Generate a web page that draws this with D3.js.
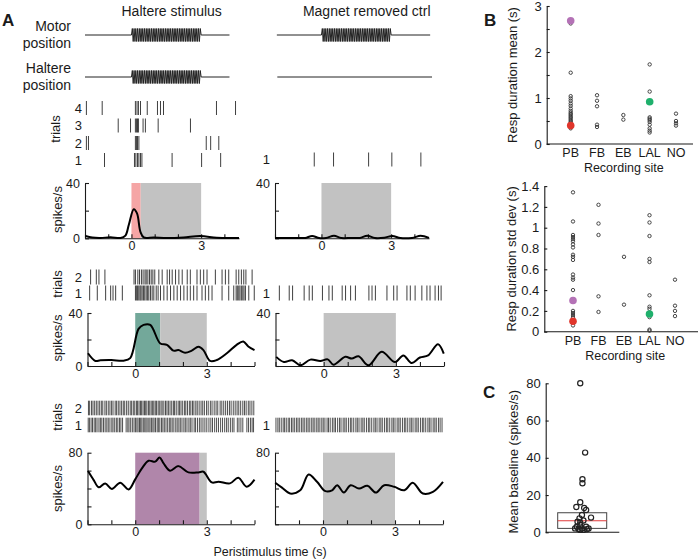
<!DOCTYPE html>
<html><head><meta charset="utf-8">
<script src="https://cdn.jsdelivr.net/npm/d3@7"></script>
<style>
body{margin:0;background:#fff;}
svg text{font-family:"Liberation Sans",Arial,Helvetica,sans-serif;fill:#1a1a1a;}
</style></head><body>
<svg id="fig" width="700" height="560"></svg>
<script>
// ---------------- DATA ----------------
const columnTitles = ["Haltere stimulus", "Magnet removed ctrl"];
const stimWindow = [0, 3];
const stimCycles = 40;
const traceSpanLeft = [-2, 4.22];
const traceSpanRight = [-1.92, 4.68];
const haltereSpanRight = [-1.9, 4.76];

// Row 1 rasters (spike times, s)
const raster1LeftLabels = ["4", "3", "2", "1"];
const raster1Left = [
  [-1.94, -1.26, 0.17, 0.24, 0.3, 0.39, 0.68, 1.12, 1.25, 1.38, 3.66, 4.48],
  [-0.57, -0.04, 0.17, 0.22, 0.26, 0.3, 0.5, 0.6, 1.15, 2.54],
  [-1.94, -1.85, 0.17, 0.22, 0.26, 0.32, 3.22, 3.41, 3.76],
  [-1.16, 0.13, 0.19, 0.26, 0.32, 0.39, 0.45, 1.75, 3.02, 3.84]
];
const raster1RightLabels = ["1"];
const raster1Right = [[-0.31, 0.52, 2.03, 3.03, 4.28]];

// Row 2 rasters
const raster2LeftLabels = ["2", "1"];
const raster2Left = [
  [-1.87, -1.63, -1.52, -1.27, -0.05, 0.01, 0.11, 0.18, 0.26, 0.33, 0.41, 0.46, 0.53, 0.6, 0.67, 0.74, 0.82, 0.99, 1.13, 1.34, 1.44, 1.55, 1.69, 1.83, 1.97, 2.18, 2.31, 2.59, 2.73, 2.87, 3.01, 3.36, 3.64, 3.78, 3.92, 4.23, 4.34, 4.45, 4.55, 4.64, 4.9],
  [-1.91, -1.59, -1.24, -1.03, -0.93, -0.82, -0.54, 0.01, 0.06, 0.1, 0.15, 0.2, 0.24, 0.29, 0.35, 0.4, 0.46, 0.52, 0.57, 0.64, 0.71, 0.78, 0.88, 0.96, 1.06, 1.2, 1.34, 1.48, 1.62, 1.76, 1.9, 2.04, 2.18, 2.31, 2.45, 2.59, 2.8, 2.94, 3.08, 3.22, 3.64, 3.92, 4.13, 4.23, 4.28, 4.34, 4.39, 4.45, 4.51, 4.56, 4.62, 4.76, 4.99]
];
const raster2RightLabels = ["1"];
const raster2Right = [[-1.84, -1.43, -1.29, -0.81, -0.6, -0.47, -0.05, 0.22, 0.36, 0.77, 0.91, 1.12, 1.32, 1.88, 2.01, 2.15, 2.63, 2.91, 3.05, 3.46, 3.6, 3.8, 4.08, 4.29, 4.42, 4.63, 4.77, 4.88]];

// Row 3 rasters (dense)
const raster3LeftLabels = ["2", "1"];
const raster3Left = [
  [-1.96, -1.91, -1.83, -1.77, -1.7, -1.63, -1.56, -1.49, -1.42, -1.36, -1.27, -1.21, -1.13, -1.06, -0.99, -0.93, -0.84, -0.78, -0.71, -0.64, -0.57, -0.5, -0.44, -0.36, -0.29, -0.21, -0.15, -0.08, -0.02, 0.05, 0.1, 0.16, 0.22, 0.27, 0.33, 0.39, 0.44, 0.49, 0.56, 0.61, 0.67, 0.73, 0.78, 0.84, 0.89, 0.96, 1.01, 1.08, 1.13, 1.2, 1.27, 1.33, 1.39, 1.46, 1.53, 1.6, 1.65, 1.72, 1.8, 1.86, 1.92, 1.99, 2.07, 2.12, 2.19, 2.27, 2.33, 2.4, 2.46, 2.54, 2.6, 2.68, 2.76, 2.83, 2.9, 2.99, 3.06, 3.15, 3.22, 3.31, 3.39, 3.46, 3.56, 3.63, 3.71, 3.79, 3.87, 3.95, 4.02, 4.11, 4.19, 4.27, 4.34, 4.42, 4.51, 4.58, 4.65, 4.74, 4.81, 4.89, 4.97],
  [-1.97, -1.92, -1.85, -1.79, -1.72, -1.66, -1.6, -1.52, -1.46, -1.4, -1.33, -1.26, -1.19, -1.13, -1.06, -0.98, -0.93, -0.86, -0.79, -0.73, -0.66, -0.6, -0.53, -0.38, -0.31, -0.26, -0.19, -0.12, -0.05, 0.01, 0.07, 0.12, 0.18, 0.23, 0.28, 0.34, 0.4, 0.45, 0.5, 0.57, 0.62, 0.68, 0.74, 0.79, 0.85, 0.92, 0.97, 1.03, 1.1, 1.16, 1.22, 1.29, 1.36, 1.43, 1.49, 1.55, 1.62, 1.7, 1.76, 1.83, 1.89, 1.96, 2.04, 2.1, 2.17, 2.25, 2.31, 2.38, 2.47, 2.53, 2.61, 2.69, 2.76, 2.84, 2.92, 3.0, 3.09, 3.17, 3.24, 3.33, 3.41, 3.49, 3.58, 3.66, 3.75, 3.83, 3.9, 3.99, 4.07, 4.14, 4.28, 4.35, 4.43, 4.51, 4.68, 4.75, 4.83, 4.9, 4.96]
];
const raster3RightLabels = ["1"];
const raster3Right = [[-1.96, -1.88, -1.82, -1.74, -1.66, -1.6, -1.53, -1.45, -1.39, -1.31, -1.25, -1.18, -1.1, -1.04, -0.97, -0.89, -0.83, -0.76, -0.68, -0.62, -0.55, -0.47, -0.41, -0.34, -0.26, -0.2, -0.13, -0.05, 0.01, 0.08, 0.17, 0.23, 0.3, 0.39, 0.46, 0.52, 0.61, 0.69, 0.75, 0.84, 0.91, 0.97, 1.06, 1.14, 1.2, 1.28, 1.37, 1.43, 1.5, 1.59, 1.66, 1.72, 1.81, 1.89, 1.95, 2.03, 2.12, 2.18, 2.25, 2.34, 2.41, 2.47, 2.56, 2.64, 2.7, 2.78, 2.87, 2.93, 3.0, 3.09, 3.16, 3.22, 3.31, 3.39, 3.45, 3.53, 3.62, 3.68, 3.75, 3.84, 3.91, 3.97, 4.06, 4.14, 4.2, 4.28, 4.37, 4.43, 4.5, 4.59, 4.66, 4.72, 4.81, 4.88, 4.96]];

// PSTH curves [time s, spikes/s]
const psth1Left = [[-1.98,1.7],[-1.69,0.5],[-1.33,0.2],[-0.9,0.8],[-0.47,0.2],[-0.26,2.0],[-0.11,10],[0.1,21],[0.24,18],[0.39,4.5],[0.53,0.6],[0.96,0.6],[1.53,0.2],[2.24,0.6],[2.96,1.6],[3.67,0.4],[4.39,0.2],[4.63,0.2]];
const psth1Right = [[-2,0.3],[-1.5,0.2],[-1,0.3],[-0.7,0.2],[-0.4,1.7],[-0.1,0.2],[0.2,0.3],[0.54,1.8],[0.85,0.2],[1.3,0.3],[1.65,0.3],[1.97,1.8],[2.3,0.2],[2.7,0.4],[3.05,1.7],[3.4,0.2],[3.9,0.3],[4.27,1.8],[4.63,0.3]];
const psth2Left = [[-1.98,9.6],[-1.67,3.8],[-1.46,4.3],[-1.0,4.5],[-0.49,4],[-0.21,6],[0.14,28],[0.35,31],[0.63,31],[1.05,17],[1.33,16],[1.6,11.6],[1.81,12],[2.09,10],[2.37,11.6],[2.65,14.5],[2.86,12],[3.14,3.8],[3.42,4.5],[3.84,9.6],[4.25,16],[4.53,18.5],[4.74,14.7],[5,12]];
const psth2Right = [[-1.97,6.9],[-1.65,3],[-1.31,4.3],[-0.96,0.5],[-0.55,4.8],[-0.14,3.8],[0.17,5],[0.41,1],[0.9,6.9],[1.17,5.6],[1.45,7.4],[1.86,0.5],[2.41,10.7],[2.96,3],[3.31,8],[3.65,2.3],[4.0,6.4],[4.34,8],[4.75,16.5],[4.99,9.4]];
const psth3Left = [[-1.98,59.5],[-1.74,49.4],[-1.53,41.3],[-1.26,45.7],[-0.98,39.4],[-0.63,46.5],[-0.28,39],[0,50.2],[0.28,62.5],[0.56,71],[0.84,70],[1.02,74.7],[1.19,68],[1.46,59.9],[1.81,65],[2.23,58],[2.65,58],[2.86,58.7],[3.21,46.8],[3.49,47.6],[3.97,45.7],[4.32,52],[4.67,42],[5,50]];
const psth3Right = [[-1.99,46.4],[-1.71,41],[-1.37,34.4],[-0.95,38],[-0.6,55.7],[-0.25,47.5],[0.1,37],[0.38,38],[0.59,43.7],[0.87,35.5],[1.15,43.7],[1.5,40],[1.85,43],[2.2,35.5],[2.55,43.7],[2.97,41.9],[3.39,38],[3.74,46.4],[4.16,34.4],[4.58,36.3],[5.0,47.5]];

// Response windows (s)
const respWindow1 = [0, 0.4];
const respWindow2 = [0, 1.05];
const respWindow3 = [0, 2.7];

// Panel B
const sites = ["PB", "FB", "EB", "LAL", "NO"];
const durMeanBySite = [
  [2.62, 1.55, 1.04, 0.99, 0.94, 0.88, 0.83, 0.77, 0.72, 0.68, 0.65, 0.62, 0.59, 0.56, 0.53, 0.5, 0.47, 0.44, 0.37, 0.34],
  [1.06, 0.94, 0.82, 0.42, 0.37],
  [0.63, 0.53],
  [1.73, 1.14, 0.58, 0.55, 0.52, 0.48, 0.42, 0.34, 0.29, 0.25],
  [0.66, 0.5, 0.45, 0.4]
];
const durSdBySite = [
  [1.34, 1.06, 0.93, 0.91, 0.89, 0.87, 0.84, 0.81, 0.74, 0.72, 0.69, 0.55, 0.52, 0.5, 0.4, 0.2, 0.18, 0.16, 0.14, 0.06],
  [1.22, 1.04, 0.93, 0.34, 0.19],
  [0.72, 0.26],
  [1.12, 1.05, 0.92, 0.7, 0.67, 0.35, 0.24, 0.22, 0.14, 0.02, 0.01],
  [0.5, 0.25, 0.2, 0.15]
];
const exampleSites = ["PB", "LAL", "PB"];     // row1, row2, row3 examples
const exampleMean = [0.4, 0.92, 2.68];
const exampleSd = [0.1, 0.17, 0.3];
const meanTicks = [0, 0.5, 1, 1.5, 2, 2.5, 3];
const sdTicks = [0, 0.2, 0.4, 0.6, 0.8, 1, 1.2, 1.4];

// Panel C
const baselineVals = [80, 42.8, 28.5, 26.3, 16.1, 13.6, 13.1, 12, 7.9, 9.3, 7.5, 5.7, 6.3, 3.9, 3, 3, 1.8, 2.1, 1.6, 2.1, 1.3, 1.3, 2.1, 5.2];
const baselineJitter = [-0.08, 0.12, 0.01, 0.01, -0.08, -0.24, 0.08, 0.16, 0.36, -0.01, -0.11, -0.19, 0.05, -0.08, -0.22, 0.16, -0.15, -0.01, 0.19, -0.29, 0.05, -0.08, 0.26, -0.08];
const baselineBox = [2.1, 6.2, 10.5]; // q1, median, q3
const baselineTicks = [0, 20, 40, 60, 80];

// ---------------- STYLE ----------------
const C = {ink:"#1a1a1a", gray:"#c2c2c2", pink:"#f5a5a5", teal:"#73a89a", purple:"#b086aa",
  red:"#e0352b", green:"#1fb06c", mag:"#b472b6", dot:"#333"};
const exampleColors = [C.red, C.green, C.mag];

const svg = d3.select("#fig");

function text(x, y, s, o = {}) {
  const t = svg.append("text").attr("x", x).attr("y", y).text(s)
    .attr("font-size", o.size || 13).attr("text-anchor", o.anchor || "start")
    .attr("font-weight", o.weight || "normal");
  if (o.rot) t.attr("transform", `rotate(-90,${x},${y})`).attr("text-anchor", "middle").attr("dominant-baseline", "central");
  return t;
}
function styleAxis(g, size) {
  g.attr("font-family", '"Liberation Sans",Arial,sans-serif').attr("font-size", size || 12.5);
  g.selectAll("path,line").attr("stroke", C.ink).attr("stroke-width", 1.1);
  g.selectAll("text").attr("fill", C.ink);
}

// ---------------- PANEL A ----------------
const rowGeo = [
  {dom: [-2, 4.63], L: [85, 239], R: [275, 429], y: [238.3, 183], ymax: 40},
  {dom: [-2, 5], L: [87.5, 254.5], R: [275.5, 444], y: [366, 313], ymax: 40},
  {dom: [-2, 5], L: [87.5, 254.5], R: [275, 443], y: [524.3, 452.7], ymax: 80}
];
const xs = rowGeo.map(r => ({L: d3.scaleLinear().domain(r.dom).range(r.L), R: d3.scaleLinear().domain(r.dom).range(r.R)}));

text(2, 26, "A", {size: 17, weight: "bold"});
text(171.7, 16, columnTitles[0], {size: 14, anchor: "middle"});
text(366.7, 16, columnTitles[1], {size: 14, anchor: "middle"});
text(71, 31, "Motor", {size: 14, anchor: "end"});
text(71, 48, "position", {size: 14, anchor: "end"});
text(71, 73, "Haltere", {size: 14, anchor: "end"});
text(71, 90, "position", {size: 14, anchor: "end"});

function tracePoints(span, osc) {
  const pts = [[span[0], 0]];
  if (osc) {
    const n = stimCycles * 2, d = (stimWindow[1] - stimWindow[0]) / n;
    pts.push([stimWindow[0], 0]);
    for (let k = 1; k < n; k++) pts.push([stimWindow[0] + k * d, k % 2 ? 1 : -1]);
    pts.push([stimWindow[1], 0]);
  }
  pts.push([span[1], 0]);
  return pts;
}
function drawTrace(x, yc, pts) {
  const y = d3.scaleLinear().domain([-1, 1]).range([yc + 6.5, yc - 6.5]);
  svg.append("path").attr("d", d3.line().x(d => x(d[0])).y(d => y(d[1]))(pts))
    .attr("fill", "none").attr("stroke", "#222").attr("stroke-width", 1);
}
drawTrace(xs[0].L, 35, tracePoints(traceSpanLeft, true));
drawTrace(xs[0].L, 77, tracePoints(traceSpanLeft, true));
drawTrace(xs[0].R, 35, tracePoints(traceSpanRight, true));
drawTrace(xs[0].R, 77, tracePoints(haltereSpanRight, false));

function drawRaster(x, trials, labels, ys, half, labelX, color) {
  trials.forEach((tr, i) => {
    svg.append("g").selectAll("line").data(tr).join("line")
      .attr("x1", d => x(d)).attr("x2", d => x(d))
      .attr("y1", ys[i] - half).attr("y2", ys[i] + half)
      .attr("stroke", color || "#2a2a2a").attr("stroke-width", 0.9);
    text(labelX, ys[i] + 4.5, labels[i], {size: 13, anchor: "end"});
  });
}
drawRaster(xs[0].L, raster1Left, raster1LeftLabels, [108, 125.5, 143, 160], 7, 82);
drawRaster(xs[0].R, raster1Right, raster1RightLabels, [159.5], 7, 270);
drawRaster(xs[1].L, raster2Left, raster2LeftLabels, [277, 293], 7.5, 82);
drawRaster(xs[1].R, raster2Right, raster2RightLabels, [293], 7.5, 270);
drawRaster(xs[2].L, raster3Left, raster3LeftLabels, [408, 425], 7.3, 82, "#3a3a3a");
drawRaster(xs[2].R, raster3Right, raster3RightLabels, [425], 7.3, 270, "#3a3a3a");
text(55, 129, "trials", {rot: true});
text(57, 284, "trials", {rot: true});
text(57, 417, "trials", {rot: true});

function drawPsth(r, x, shades, data, showZero) {
  const g = rowGeo[r];
  const y = d3.scaleLinear().domain([0, g.ymax]).range(g.y);
  shades.forEach(s => svg.append("rect").attr("x", x(s[0])).attr("width", x(s[1]) - x(s[0]))
    .attr("y", y(g.ymax)).attr("height", y(0) - y(g.ymax)).attr("fill", s[2]));
  const xt = d3.range(Math.ceil(g.dom[0]), Math.floor(g.dom[1]) + 1);
  const gx = svg.append("g").attr("transform", `translate(0,${g.y[0]})`)
    .call(d3.axisBottom(x).tickValues(xt).tickSize(-4).tickSizeOuter(0).tickPadding(3)
      .tickFormat(d => (d === stimWindow[0] || d === stimWindow[1]) ? d : ""));
  styleAxis(gx);
  const gy = svg.append("g").attr("transform", `translate(${x.range()[0]},0)`)
    .call(d3.axisLeft(y).tickValues(d3.range(0, g.ymax + 1, 20)).tickSize(-4).tickSizeOuter(0).tickPadding(5)
      .tickFormat(d => (d === g.ymax || (showZero && d === 0)) ? d : ""));
  styleAxis(gy);
  svg.append("path").attr("d", d3.line().x(d => x(d[0])).y(d => y(d[1])).curve(d3.curveCatmullRom.alpha(0.5))(data))
    .attr("fill", "none").attr("stroke", "#000").attr("stroke-width", 2).attr("stroke-linejoin", "round");
}
drawPsth(0, xs[0].L, [[respWindow1[0], respWindow1[1], C.pink], [respWindow1[1], stimWindow[1], C.gray]], psth1Left, true);
drawPsth(0, xs[0].R, [[stimWindow[0], stimWindow[1], C.gray]], psth1Right, false);
drawPsth(1, xs[1].L, [[respWindow2[0], respWindow2[1], C.teal], [respWindow2[1], stimWindow[1], C.gray]], psth2Left, true);
drawPsth(1, xs[1].R, [[stimWindow[0], stimWindow[1], C.gray]], psth2Right, false);
drawPsth(2, xs[2].L, [[respWindow3[0], respWindow3[1], C.purple], [respWindow3[1], stimWindow[1], C.gray]], psth3Left, true);
drawPsth(2, xs[2].R, [[stimWindow[0], stimWindow[1], C.gray]], psth3Right, false);
text(57, 209.5, "spikes/s", {rot: true});
text(57, 338, "spikes/s", {rot: true});
text(57, 488.5, "spikes/s", {rot: true});
text(270, 556, "Peristimulus time (s)", {size: 12.5, anchor: "middle"});

// ---------------- PANEL B ----------------
function drawScatter(o) {
  const x = d3.scalePoint().domain(sites).range(o.xr);
  const y = d3.scaleLinear().domain(o.ydom).range(o.yr);
  const gy = svg.append("g").attr("transform", `translate(${o.ax},0)`)
    .call(d3.axisLeft(y).tickValues(o.ticks).tickSize(-3).tickSizeOuter(0).tickPadding(5).tickFormat(o.fmt));
  styleAxis(gy, 13);
  svg.append("line").attr("x1", o.ax).attr("x2", o.axEnd).attr("y1", o.yr[0]).attr("y2", o.yr[0])
    .attr("stroke", C.ink).attr("stroke-width", 1.1);
  sites.forEach(s => text(x(s), o.yr[0] + 13, s, {size: 12.5, anchor: "middle"}));
  text((o.ax + o.axEnd) / 2 + 4, o.yr[0] + 28, "Recording site", {size: 12.5, anchor: "middle"});
  o.vals.forEach((arr, i) => {
    svg.append("g").selectAll("circle").data(arr).join("circle")
      .attr("cx", x(sites[i])).attr("cy", d => y(d)).attr("r", 1.7)
      .attr("fill", "none").attr("stroke", C.dot).attr("stroke-width", 0.9);
  });
  o.hl.forEach((v, i) => svg.append("circle").attr("cx", x(exampleSites[i])).attr("cy", y(v))
    .attr("r", 3.8).attr("fill", exampleColors[i]));
  text(o.labX, (o.yr[0] + o.yr[1]) / 2, o.label, {rot: true, size: 13});
}
text(484, 26, "B", {size: 17, weight: "bold"});
drawScatter({xr: [570.7, 676], ydom: [0, 3], yr: [144, 6], ax: 546.7, axEnd: 693,
  ticks: meanTicks, fmt: d => Number.isInteger(d) ? d : "", vals: durMeanBySite, hl: exampleMean,
  labX: 512, label: "Resp duration mean (s)"});
drawScatter({xr: [573, 675], ydom: [0, 1.4], yr: [331.7, 186.1], ax: 544.3, axEnd: 698,
  ticks: sdTicks, fmt: d => +d.toFixed(1), vals: durSdBySite, hl: exampleSd,
  labX: 512, label: "Resp duration std dev (s)"});

// ---------------- PANEL C ----------------
text(483, 398, "C", {size: 17, weight: "bold"});
{
  const y = d3.scaleLinear().domain([0, 80]).range([532.3, 383.3]);
  const x = d3.scaleLinear().domain([-1, 1]).range([557.7, 606.7]);
  const gy = svg.append("g").attr("transform", "translate(545.7,0)")
    .call(d3.axisLeft(y).tickValues(baselineTicks).tickSize(-3).tickSizeOuter(0).tickPadding(5));
  styleAxis(gy, 13);
  svg.append("line").attr("x1", 545.7).attr("x2", 619.3).attr("y1", y(0)).attr("y2", y(0))
    .attr("stroke", C.ink).attr("stroke-width", 1.1);
  svg.append("rect").attr("x", x(-1)).attr("width", x(1) - x(-1))
    .attr("y", y(baselineBox[2])).attr("height", y(baselineBox[0]) - y(baselineBox[2]))
    .attr("fill", "none").attr("stroke", "#444").attr("stroke-width", 1);
  svg.append("line").attr("x1", x(-1)).attr("x2", x(1)).attr("y1", y(baselineBox[1])).attr("y2", y(baselineBox[1]))
    .attr("stroke", "#e03a3a").attr("stroke-width", 1.2);
  svg.append("g").selectAll("circle").data(baselineVals).join("circle")
    .attr("cx", (d, i) => x(baselineJitter[i])).attr("cy", d => y(d)).attr("r", 2.6)
    .attr("fill", "none").attr("stroke", "#222").attr("stroke-width", 1.2);
  text(514, 461.7, "Mean baseline (spikes/s)", {rot: true, size: 13});
}
</script>
</body></html>
